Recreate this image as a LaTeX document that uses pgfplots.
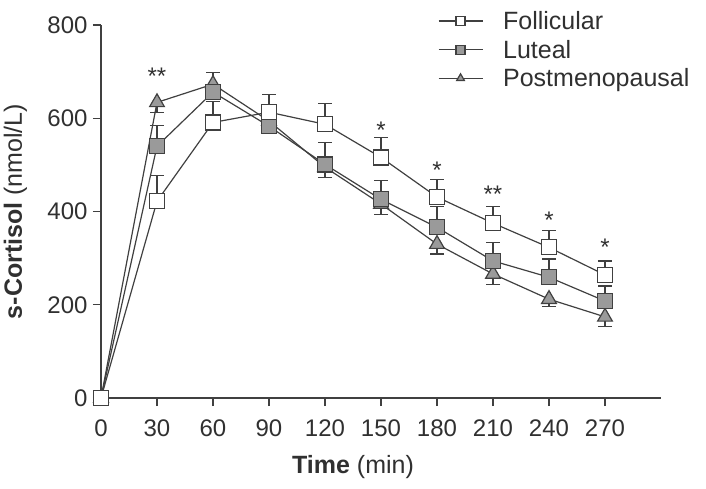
\documentclass[border=0pt]{standalone}
\usepackage{pgfplots}
\pgfplotsset{compat=1.18}
\usepackage{fontspec}
\setmainfont{Liberation Sans}
\definecolor{ln}{HTML}{404040}
\definecolor{tx}{HTML}{303030}
\definecolor{fl}{HTML}{9A9A9A}
\begin{document}
\begin{tikzpicture}
\begin{axis}[
  scale only axis, width=560pt, height=373pt,
  xmin=0, xmax=300, ymin=0, ymax=800,
  axis lines=left, axis line style={ln, line width=1.4pt, -},
  xtick={0,30,...,270}, ytick={0,200,...,800},
  xtick pos=bottom, ytick pos=left,
  tick style={ln, line width=1.4pt},
  tick align=outside, major tick length=8pt,
  tick label style={font=\fontsize{24}{26}\selectfont, text=tx},
  xticklabel style={yshift=-10pt},
  yticklabel style={xshift=-2pt},
  /pgf/number format/assume math mode=true,
  xlabel={\textbf{Time} (min)}, ylabel={\textbf{s-Cortisol} (nmol/L)},
  label style={font=\fontsize{25}{28}\selectfont, text=tx},
  xlabel style={at={(axis description cs:0.45,-0.185)}, anchor=center},
  ylabel style={at={(axis description cs:-0.153,0.5)}, anchor=center},
  clip=false,
  reverse legend,
  legend style={draw=none, fill=none, at={(0.596,1.048)}, anchor=north west,
    font=\fontsize{25}{28}\selectfont, text=tx, row sep=5pt,
    /tikz/every odd column/.append style={column sep=18pt}},
  legend cell align=left,
  legend image code/.code={\draw[#1, mark=none] (0pt,0pt) -- (44pt,0pt); \draw[#1, only marks, mark size=4.5pt] plot coordinates {(22pt,0pt)};},
  error bars/error bar style={ln, line width=1.2pt},
  error bars/error mark options={rotate=90, mark size=7pt, line width=1.2pt, ln},
]
\coordinate (bl) at (rel axis cs:0,0);
\coordinate (tr) at (rel axis cs:1,1);
% Postmenopausal
\addplot[ln, line width=1.2pt, mark=triangle*, mark size=8.5pt, mark options={fill=fl, draw=ln, solid},
  error bars/.cd, y dir=minus, y explicit]
  coordinates {(0,0) +- (0,0) (30,634) +- (0,21) (60,673) +- (0,20) (90,594) +- (0,18)
  (120,495) +- (0,22) (150,416) +- (0,22) (180,330) +- (0,21) (210,266) +- (0,22)
  (240,212) +- (0,15) (270,174) +- (0,20)};
\addlegendentry{Postmenopausal}
% Luteal
\addplot[ln, line width=1.2pt, mark=square*, mark size=7.5pt, mark options={fill=fl, draw=ln, solid},
  error bars/.cd, y dir=plus, y explicit]
  coordinates {(0,0) +- (0,0) (30,540) +- (0,45) (60,656) +- (0,42) (90,583) +- (0,15)
  (120,501) +- (0,47) (150,426) +- (0,41) (180,366) +- (0,45) (210,294) +- (0,40)
  (240,259) +- (0,39) (270,208) +- (0,32)};
\addlegendentry{Luteal}
% Follicular
\addplot[ln, line width=1.2pt, mark=square*, mark size=7.5pt, mark options={fill=white, draw=ln, solid},
  error bars/.cd, y dir=plus, y explicit]
  coordinates {(0,0) +- (0,0) (30,422) +- (0,56) (60,591) +- (0,45) (90,613) +- (0,38)
  (120,587) +- (0,45) (150,516) +- (0,43) (180,431) +- (0,38) (210,375) +- (0,36)
  (240,323) +- (0,37) (270,264) +- (0,30)};
\addlegendentry{Follicular}
\begin{scope}[every node/.style={font=\fontsize{24}{24}\selectfont, text=tx, inner sep=0pt}]
\node at (axis cs:30,690) {**};
\node at (axis cs:150,575) {*};
\node at (axis cs:180,489) {*};
\node at (axis cs:210,436) {**};
\node at (axis cs:240,382) {*};
\node at (axis cs:270,324) {*};
\end{scope}
\end{axis}
\pgfresetboundingbox
\path (bl) ++(-101pt,-91pt) coordinate (a);
\path (tr) ++(45pt,25pt) coordinate (b);
\path[use as bounding box] (a) rectangle (b);
\end{tikzpicture}
\end{document}
